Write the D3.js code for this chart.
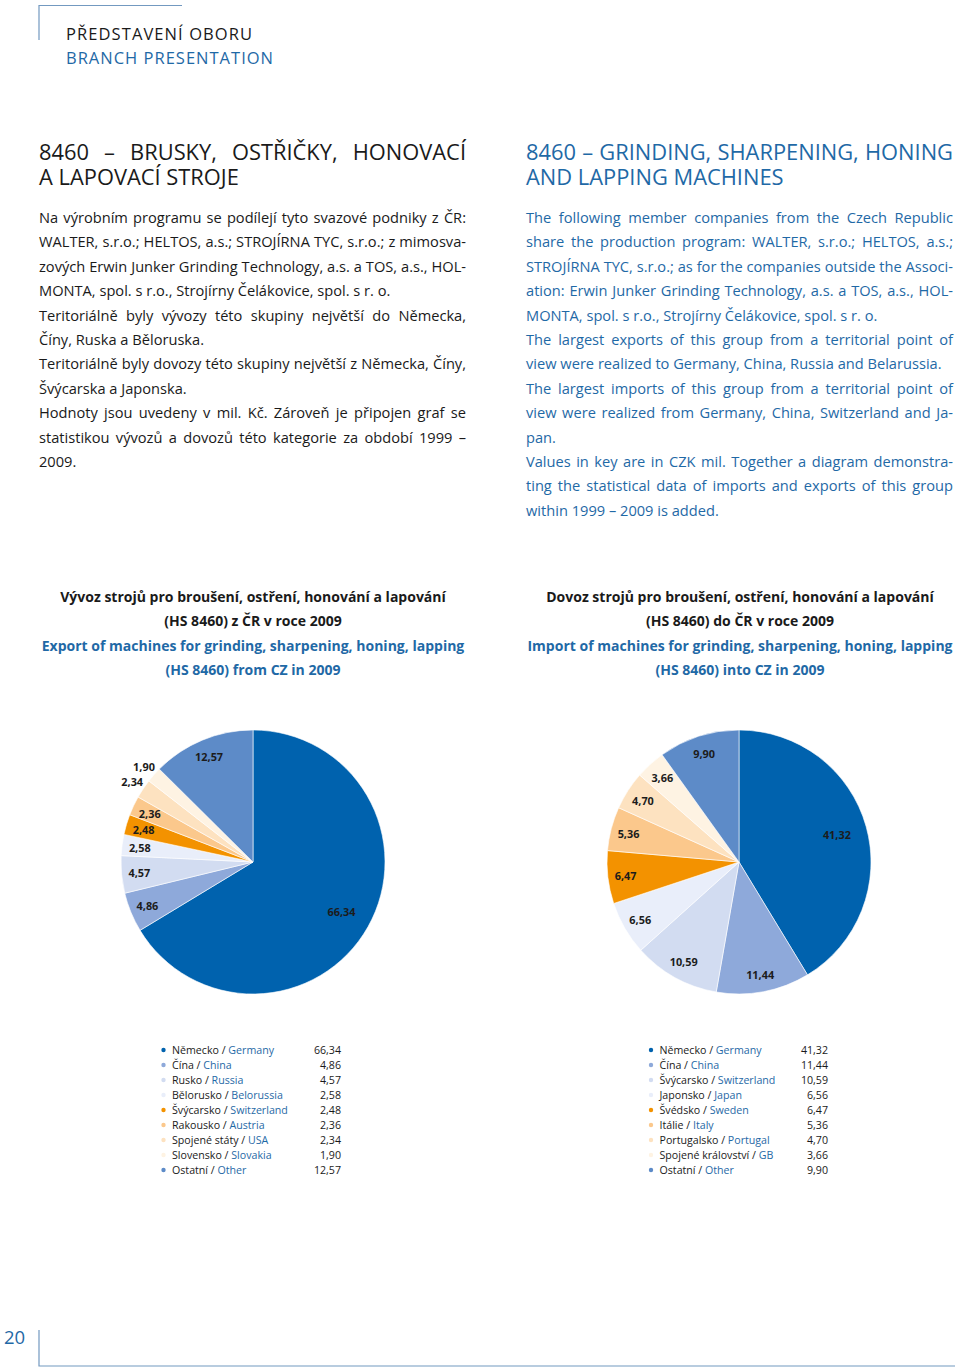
<!DOCTYPE html>
<html><head><meta charset="utf-8">
<script src="https://cdn.jsdelivr.net/npm/d3@7"></script>
<style>
body{margin:0;background:#fff;}
svg{display:block;}
</style></head><body>
<script>
// ---------- data ----------
const exportCzech = ["Německo","Čína","Rusko","Bělorusko","Švýcarsko","Rakousko","Spojené státy","Slovensko","Ostatní"];
const exportEnglish = ["Germany","China","Russia","Belorussia","Switzerland","Austria","USA","Slovakia","Other"];
const exportValues = [66.34,4.86,4.57,2.58,2.48,2.36,2.34,1.90,12.57];

const importCzech = ["Německo","Čína","Švýcarsko","Japonsko","Švédsko","Itálie","Portugalsko","Spojené království","Ostatní"];
const importEnglish = ["Germany","China","Switzerland","Japan","Sweden","Italy","Portugal","GB","Other"];
const importValues = [41.32,11.44,10.59,6.56,6.47,5.36,4.70,3.66,9.90];

const sliceColors = ["#0062ae","#8ea9da","#d2dcf1","#e9eefa","#f39200","#fbc88c","#fde2c0","#fef3e3","#5d8bc8"];

const headerLines = ["PŘEDSTAVENÍ OBORU","BRANCH PRESENTATION"];
const headingCz = ["8460 – BRUSKY, OSTŘIČKY, HONOVACÍ","A LAPOVACÍ STROJE"];
const headingEn = ["8460 – GRINDING, SHARPENING, HONING","AND LAPPING MACHINES"];
// [text, justified]
const bodyCz = [
 ["Na výrobním programu se podílejí tyto svazové podniky z ČR:",1],
 ["WALTER, s.r.o.; HELTOS, a.s.; STROJÍRNA TYC, s.r.o.; z mimosva-",1],
 ["zových Erwin Junker Grinding Technology, a.s. a TOS, a.s., HOL-",1],
 ["MONTA, spol. s r.o., Strojírny Čelákovice, spol. s r. o.",0],
 ["Teritoriálně byly vývozy této skupiny největší do Německa,",1],
 ["Číny, Ruska a Běloruska.",0],
 ["Teritoriálně byly dovozy této skupiny největší z Německa, Číny,",1],
 ["Švýcarska a Japonska.",0],
 ["Hodnoty jsou uvedeny v mil. Kč. Zároveň je připojen graf se",1],
 ["statistikou vývozů a dovozů této kategorie za období 1999 –",1],
 ["2009.",0]
];
const bodyEn = [
 ["The following member companies from the Czech Republic",1],
 ["share the production program: WALTER, s.r.o.; HELTOS, a.s.;",1],
 ["STROJÍRNA TYC, s.r.o.; as for the companies outside the Associ-",1],
 ["ation: Erwin Junker Grinding Technology, a.s. a TOS, a.s., HOL-",1],
 ["MONTA, spol. s r.o., Strojírny Čelákovice, spol. s r. o.",0],
 ["The largest exports of this group from a territorial point of",1],
 ["view were realized to Germany, China, Russia and Belarussia.",0],
 ["The largest imports of this group from a territorial point of",1],
 ["view were realized from Germany, China, Switzerland and Ja-",1],
 ["pan.",0],
 ["Values in key are in CZK mil. Together a diagram demonstra-",1],
 ["ting the statistical data of imports and exports of this group",1],
 ["within 1999 – 2009 is added.",0]
];
const exportTitle = ["Vývoz strojů pro broušení, ostření, honování a lapování","(HS 8460) z ČR v roce 2009","Export of machines for grinding, sharpening, honing, lapping","(HS 8460) from CZ in 2009"];
const importTitle = ["Dovoz strojů pro broušení, ostření, honování a lapování","(HS 8460) do ČR v roce 2009","Import of machines for grinding, sharpening, honing, lapping","(HS 8460) into CZ in 2009"];
const pageNumber = "20";

// ---------- style ----------
const FONT = '"Open Sans", "Noto Sans", sans-serif';
const BLACK = "#1a1a1a", BLUE = "#1f69a6", LINE = "#7399c0";

const canvas = document.createElement("canvas");
const ctx = canvas.getContext("2d");
function measure(text, size, weight){ ctx.font = `${weight} ${size}px ${FONT}`; return ctx.measureText(text).width; }
function fit(text, target, weight){ return 100 * target / measure(text, 100, weight); }

const bodySize = (fit("MONTA, spol. s r.o., Strojírny Čelákovice, spol. s r. o.", 352, 400) + fit("view were realized to Germany, China, Russia and Belarussia.", 416, 400)) / 2;
const headSize = Math.min(
  (fit("AND LAPPING MACHINES", 262, 400) + fit("A LAPOVACÍ STROJE", 209, 400)) / 2,
  fit("8460 – GRINDING, SHARPENING, HONING", 425, 400));
const titleSize = fit("Vývoz strojů pro broušení, ostření, honování a lapování", 386, 700);
const legendSize = fit("Bělorusko / Belorussia", 111, 400);
const labelSize = fit("66,34", 28, 700);

const W = 960, H = 1371;
const svg = d3.select("body").append("svg").attr("width", W).attr("height", H)
  .style("font-family", FONT);

function drawLine(g, text, x, y, width, justify, size, weight, fill){
  const t = g.append("text").attr("y", y).attr("font-size", size).attr("font-weight", weight).attr("fill", fill);
  if(!justify){ t.attr("x", x).text(text); return t; }
  const words = text.split(" ");
  const ws = words.map(w => measure(w, size, weight));
  const gap = Math.max(measure(" ", size, weight) * 0.8, (width - d3.sum(ws)) / (words.length - 1));
  let cx = x;
  words.forEach((w, i) => { t.append("tspan").attr("x", cx).text(w); cx += ws[i] + gap; });
  return t;
}

// ---------- header ----------
svg.append("path").attr("d", "M39,40V5.5H182").attr("fill","none").attr("stroke", LINE).attr("stroke-width", 1.2);
const hs = 16.5;
[[headerLines[0], 39.5, BLACK, 186],[headerLines[1], 64, BLUE, 207]].forEach(([t, y, c, w]) => {
  const ls = (w - measure(t, hs, 400)) / (t.length - 1);
  svg.append("text").attr("x", 66).attr("y", y).attr("font-size", hs).attr("letter-spacing", ls)
    .attr("fill", c).text(t);
});

// ---------- headings and body ----------
const colL = 39, colR = 526, colW = 427;
const g = svg.append("g");
headingCz.forEach((t, i) => drawLine(g, t, colL, 159.5 + i*25, colW, i === 0, headSize, 400, BLACK));
headingEn.forEach((t, i) => drawLine(g, t, colR, 159.5 + i*25, colW, i === 0, headSize, 400, BLUE));
bodyCz.forEach(([t, j], i) => drawLine(g, t, colL, 223 + i*24.4, colW, j, bodySize, 400, BLACK));
bodyEn.forEach(([t, j], i) => drawLine(g, t, colR, 223 + i*24.4, colW, j, bodySize, 400, BLUE));

// ---------- chart titles ----------
function titles(lines, cx){
  lines.forEach((t, i) => svg.append("text").attr("x", cx).attr("y", 602 + i*24.4)
    .attr("text-anchor","middle").attr("font-size", titleSize).attr("font-weight", 700)
    .attr("fill", i < 2 ? BLACK : BLUE).text(t));
}
titles(exportTitle, 253);
titles(importTitle, 740);

// ---------- pies ----------
const fmt = d3.formatLocale({decimal: ",", thousands: " ", grouping: [3], currency: ["", ""]}).format(".2f");
const R = 132;
function pie(values, cx, cy){
  const arcs = d3.pie().sort(null).value(d => d)(values);
  const arc = d3.arc().innerRadius(0).outerRadius(R);
  const gp = svg.append("g").attr("transform", `translate(${cx},${cy})`);
  gp.selectAll("path").data(arcs).join("path").attr("d", arc)
    .attr("fill", (d, i) => sliceColors[i]).attr("stroke", "#fff").attr("stroke-width", 0.6);
  gp.selectAll("text").data(arcs).join("text")
    .attr("transform", d => {
      const v = d.data;
      const lr = v < 2.35 ? R*1.1 : (v > 30 ? R*0.77 : R*0.865);
      const a = (d.startAngle + d.endAngle) / 2;
      return `translate(${lr*Math.sin(a)},${-lr*Math.cos(a)})`;
    })
    .attr("text-anchor","middle").attr("dominant-baseline","central")
    .attr("font-size", labelSize).attr("font-weight", 700).attr("fill", "#1c1c1c")
    .text(d => fmt(d.data));
}
pie(exportValues, 253, 862);
pie(importValues, 739, 862);

// ---------- legends ----------
function legend(cz, en, values, x, valX){
  const gl = svg.append("g");
  values.forEach((v, i) => {
    const y = 1050 + i*15;
    gl.append("circle").attr("cx", x).attr("cy", y).attr("r", 2.2).attr("fill", sliceColors[i]);
    const t = gl.append("text").attr("x", x + 8.5).attr("y", y + 4).attr("font-size", legendSize).attr("fill", BLACK);
    t.append("tspan").text(cz[i] + " / ");
    t.append("tspan").attr("fill", BLUE).text(en[i]);
    gl.append("text").attr("x", valX).attr("y", y + 4).attr("text-anchor","end")
      .attr("font-size", legendSize).attr("fill", BLACK).text(fmt(v));
  });
}
legend(exportCzech, exportEnglish, exportValues, 163.5, 341);
legend(importCzech, importEnglish, importValues, 651, 828);

// ---------- footer ----------
svg.append("path").attr("d", "M39,1330V1366H955").attr("fill","none").attr("stroke", LINE).attr("stroke-width", 1.2);
svg.append("text").attr("x", 4).attr("y", 1344).attr("font-size", 18.5).attr("fill", BLUE).text(pageNumber);
</script>
</body></html>
